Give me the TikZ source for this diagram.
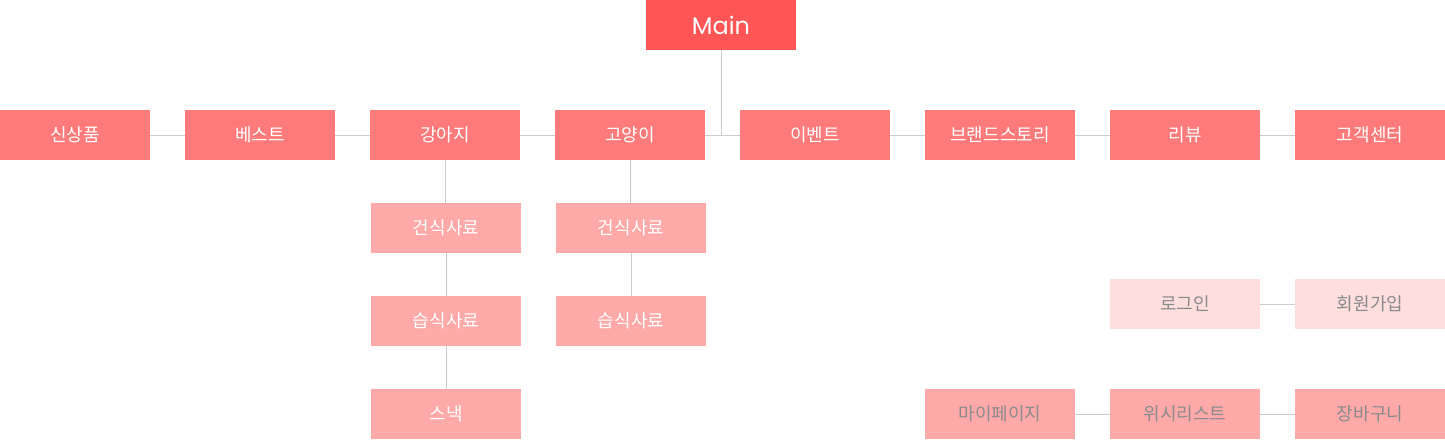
\documentclass[tikz,border=0pt]{standalone}
\usepackage{fontspec}
\setmainfont{Noto Sans CJK KR}
\newfontfamily\mainfont{Poppins}
\usetikzlibrary{positioning}
\definecolor{mainred}{HTML}{FF5555}
\definecolor{menured}{HTML}{FF7B7B}
\definecolor{subred}{HTML}{FFA9A9}
\definecolor{palered}{HTML}{FFDEDE}
\definecolor{linegray}{HTML}{CCCCCC}
\definecolor{textgray}{HTML}{8A8A8A}
\tikzset{
	box/.style={inner sep=0pt, outer sep=0pt, minimum width=150pt, minimum height=50pt, font=\fontsize{18}{21}\selectfont},
	top/.style={box, fill=mainred, text=white, font=\mainfont\fontsize{24}{28}\selectfont},
	menu/.style={box, fill=menured, text=white},
	sub/.style={box, fill=subred, text=white},
	user/.style={box, fill=palered, text=textgray},
	shop/.style={box, fill=subred, text=textgray},
}

\begin{document}
\begin{tikzpicture}[x=1pt, y=1pt]
		\useasboundingbox (0,0) rectangle (1445,-439);
		\node (main) [top] at (721,-25) {Main};
		
		\node (new) [menu] at (75,-135) {신상품};
		\node (best) [menu, right=35pt of new] {베스트};
		\node (dog) [menu, right=35pt of best] {강아지};
		\node (cat) [menu, right=35pt of dog] {고양이};
		\node (event) [menu, right=35pt of cat] {이벤트};
		\node (brand) [menu, right=35pt of event] {브랜드스토리};
		\node (review) [menu, right=35pt of brand] {리뷰};
		\node (help) [menu, right=35pt of review] {고객센터};
		
		\node (dogdry) [sub, below=43pt of dog, xshift=1pt] {건식사료};
		\node (dogwet) [sub, below=43pt of dogdry] {습식사료};
		\node (snack) [sub, below=43pt of dogwet] {스낵};
		\node (catdry) [sub, below=43pt of cat, xshift=1pt] {건식사료};
		\node (catwet) [sub, below=43pt of catdry] {습식사료};
		
		\node (login) [user, below=119pt of review] {로그인};
		\node (join) [user, right=35pt of login] {회원가입};
		\node (wish) [shop, below=60pt of login] {위시리스트};
		\node (mypage) [shop, left=35pt of wish] {마이페이지};
		\node (cart) [shop, right=35pt of wish] {장바구니};
		
		\begin{scope}[linegray, line width=1pt]
			\draw (main) -- (main |- cat.east);
			\draw (new) -- (best);
			\draw (best) -- (dog);
			\draw (dog) -- (cat);
			\draw (cat) -- (event);
			\draw (event) -- (brand);
			\draw (brand) -- (review);
			\draw (review) -- (help);
			\draw (dog) -- (dog |- dogdry.north);
			\draw (dogdry) -- (dogwet);
			\draw (dogwet) -- (snack);
			\draw (cat) -- (cat |- catdry.north);
			\draw (catdry) -- (catwet);
			\draw (login) -- (join);
			\draw (mypage) -- (wish);
			\draw (wish) -- (cart);
		\end{scope}
	\end{tikzpicture}
\end{document}
